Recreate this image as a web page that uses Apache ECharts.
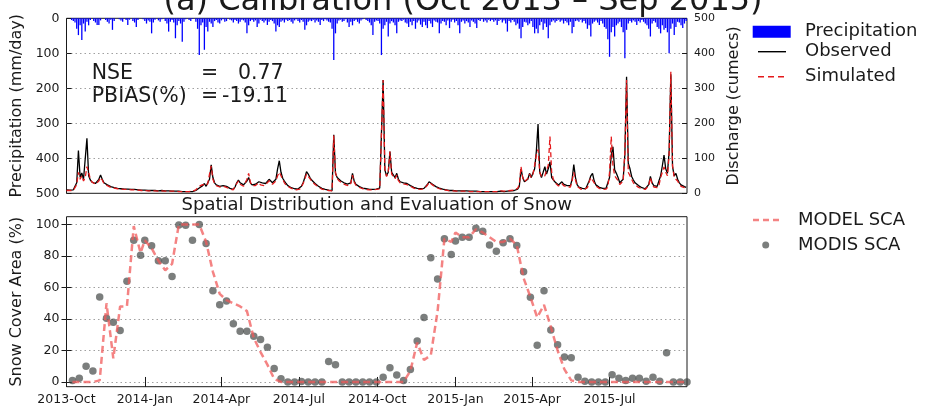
<!DOCTYPE html>
<html>
<head>
<meta charset="utf-8">
<title>Calibration hydrograph and snow cover</title>
<script src="https://cdn.jsdelivr.net/npm/echarts@6/dist/echarts.min.js"></script>
<style>
  html, body { margin: 0; padding: 0; background: #fff; }
  #chart { width: 926px; height: 409px; }
</style>
</head>
<body>
<div id="chart"></div>
<script>
// Period: 2013-10-01 .. 2015-09-30, x values are days since the start date.
const START = Date.UTC(2013, 9, 1);
const LAST_DAY = 729;
const DAY_MS = 86400000;
const STEP_DAYS = 2; // hydrological series are stored every second day

// Precipitation (mm/day)
const precipitation = [
  0,0,0,5,8,12,30,48,20,62,
  15,38,10,20,5,0,8,12,19,19,
  6,0,0,5,10,15,4,33,8,0,
  0,3,6,10,0,5,19,4,0,8,
  12,25,5,0,0,3,8,15,6,10,
  43,12,4,0,6,10,3,0,8,15,
  38,10,5,12,57,20,8,15,67,10,
  3,0,5,8,2,0,10,30,105,20,
  12,90,25,38,10,15,25,8,5,12,
  15,6,3,10,8,0,4,6,12,5,
  8,15,10,4,6,12,43,20,8,5,
  10,6,25,15,4,8,12,6,19,10,
  5,8,15,38,20,25,10,6,12,4,
  8,5,10,15,6,3,8,12,5,10,
  33,20,10,6,8,4,12,6,10,19,
  5,8,3,6,10,12,30,119,43,15,
  6,4,10,8,3,12,25,10,20,8,
  4,10,15,6,3,0,5,8,12,20,
  48,10,6,8,15,105,30,20,10,52,
  15,8,12,20,43,10,6,8,4,12,
  15,25,10,20,8,30,12,6,18,25,
  10,20,28,8,15,25,6,10,12,43,
  15,8,10,20,6,28,10,4,12,8,
  20,43,10,6,15,8,12,25,6,10,
  15,28,5,8,3,10,6,12,4,8,
  5,10,6,19,8,4,12,6,15,38,
  8,12,5,10,20,15,30,57,25,10,
  12,20,15,8,25,43,30,43,20,10,
  33,15,25,57,20,10,6,12,8,4,
  10,6,15,8,12,20,10,43,25,8,
  6,10,4,12,8,15,30,20,52,15,
  10,6,12,19,8,15,25,30,60,110,
  40,25,52,20,15,10,25,40,114,33,
  15,8,12,6,10,19,8,12,5,10,
  15,20,30,52,15,8,12,25,30,43,
  20,33,28,40,100,30,15,48,25,10,
  12,20,28,15,8
];

// Observed discharge (cumecs)
const observed = [
  10,10,9,9,10,12,30,122,45,58,
  40,35,157,50,38,32,30,28,30,40,
  52,40,30,26,24,22,19,18,16,15,
  14,14,13,13,12,12,12,11,11,11,
  11,10,10,10,9,9,9,9,8,8,
  8,8,8,7,7,7,8,7,7,7,
  7,6,6,6,6,6,6,5,5,5,
  5,5,5,5,5,6,8,10,15,18,
  22,28,20,25,40,81,45,30,24,22,
  20,18,22,20,20,16,14,12,11,18,
  30,38,30,26,24,24,35,45,30,24,
  24,26,30,33,28,30,26,28,34,40,
  35,30,28,40,70,93,60,43,35,28,
  22,19,16,14,13,12,12,14,20,30,
  45,62,55,45,38,33,28,24,20,17,
  14,12,11,10,9,8,8,167,57,45,
  40,36,33,30,28,26,24,30,57,35,
  26,22,19,17,15,14,13,12,11,11,
  11,12,12,14,15,20,324,67,50,60,
  119,60,57,45,57,40,33,30,30,28,
  28,26,22,20,17,15,14,14,13,13,
  14,18,25,33,30,26,22,19,17,15,
  13,12,11,10,9,8,8,8,8,7,
  7,7,7,7,6,7,7,6,6,6,
  6,6,5,5,5,5,5,5,5,5,
  5,5,5,5,5,6,5,5,6,6,
  7,7,8,8,9,12,20,70,45,33,
  30,40,57,45,50,70,120,198,60,45,
  60,76,55,70,90,45,38,32,28,24,
  28,33,26,24,22,20,22,40,82,45,
  24,18,14,14,13,13,18,35,50,57,
  35,24,20,17,15,14,14,15,20,45,
  110,133,67,57,45,30,26,40,110,333,
  86,70,48,38,30,26,22,19,16,14,
  13,14,25,48,30,22,20,20,25,50,
  78,109,70,57,120,340,76,50,57,40,
  30,24,20,19,17
];

// Simulated discharge (cumecs)
const simulated = [
  8,8,8,8,8,10,25,60,40,50,
  35,45,76,60,40,32,28,26,28,35,
  45,38,28,24,22,20,17,16,15,14,
  13,13,12,12,11,11,11,10,10,10,
  10,9,9,9,8,8,8,8,7,7,
  7,7,7,7,6,6,7,6,6,6,
  6,6,6,6,6,5,5,5,5,5,
  5,5,5,5,6,7,10,14,20,22,
  25,30,22,28,55,78,40,28,22,20,
  18,17,20,18,17,14,12,10,10,20,
  28,35,26,22,20,22,40,57,32,22,
  22,22,26,30,24,26,22,25,30,36,
  32,26,24,35,50,60,55,40,30,24,
  20,17,14,12,11,10,10,12,18,28,
  40,55,52,42,35,30,25,21,18,15,
  12,11,10,9,8,7,7,165,60,42,
  36,32,29,26,24,22,21,28,52,32,
  23,20,17,15,13,12,11,10,10,10,
  10,11,11,12,13,18,324,70,48,60,
  119,55,50,42,52,36,30,27,27,25,
  25,23,20,18,15,13,12,12,11,11,
  13,16,23,32,28,24,20,17,15,13,
  11,10,9,9,8,7,7,7,7,6,
  6,6,6,6,5,6,6,5,5,5,
  5,5,5,5,5,5,5,5,5,5,
  5,5,5,5,6,7,6,6,7,7,
  8,8,9,9,10,14,25,76,45,33,
  30,42,55,45,55,80,110,125,60,48,
  45,50,48,80,162,60,40,30,25,21,
  24,28,22,20,18,16,18,35,60,38,
  20,15,12,12,11,11,16,32,45,50,
  30,21,17,14,12,11,11,12,18,60,
  162,80,50,45,36,25,22,35,120,324,
  60,50,40,30,24,20,17,15,13,11,
  11,12,22,45,26,18,16,16,22,45,
  60,75,60,50,110,347,80,45,50,35,
  26,20,17,16,14
];

// Snow cover area (%) on the 8-day composite dates
const modisSCA = [
  1,2.3,10,7,54,40.5,38,32.7,64,90,80.5,
  90,86.5,77,77,67,99.7,99.5,90,100,88,
  58,49,51.4,37,32.3,32.3,29,27,22,8.6,
  2,0,0,0.3,0,0,0,13,11,0,
  0,0,0,0,0,3,9,4.4,1,8,
  26,41,79,65.5,91,81,
  89.6,92,92,97.6,95.7,87,83,88.4,91,86.7,
  70,53.8,23.4,58,33,23.6,15.8,15.4,3,0.5,
  0,0,0,4.6,2.3,1,2.3,2.3,0.5,3,
  0.5,18.5,0,0,0
];
const modelSCA = [
  0,0,0,0,1,50,15,48,48,99,82,
  90,85,77,71,75,100,100,100,100,89,
  70,56,52,50,48,45,28,19,11,2,
  0,0,0,0,0,0,0,0,0,0,
  0,0,0,0,0,0,0,0,0,7,
  25,14,17,45,91,89,
  95,92,92,97,95,92,89,89,91,87,
  66,54,41,49,35,20,8,1,0,0,
  0,0,0,0,0,0,0,0,0,0,
  0,0,0,0,0
];

// Quarterly date ticks
const tickDays = [0, 92, 182, 273, 365, 457, 547, 638];
const tickLabels = ['2013-Oct', '2014-Jan', '2014-Apr', '2014-Jul', '2014-Oct', '2015-Jan', '2015-Apr', '2015-Jul'];
const scaTicks = [0, 20, 40, 60, 80, 100];

// Start days of the 8-day composites (day-of-year 1, 9, 17, ... each year)
function compositeDays() {
  const out = [];
  for (let y = 2013; y <= 2015; y++) {
    for (let doy = 1; doy <= 366; doy += 8) {
      const d = Math.round((Date.UTC(y, 0, doy) - START) / DAY_MS);
      if (d >= 0 && d <= LAST_DAY) out.push(d);
    }
  }
  return out;
}

const FONT = 'DejaVu Sans';
const INK = '#1a1a1a';
const RED = '#e41a1c';
const PINK = 'rgba(240,90,90,0.75)';
const gridDots = { color: '#a0a0a0', width: 1, type: [1.5, 3] };
const scaDays = compositeDays();
const pairs = (arr) => arr.map((v, i) => [i * STEP_DAYS, v]);
const scaPairs = (arr) => arr.map((v, i) => [scaDays[i], v]);

// legend glyph: a three-dash stroke
const DASH_ICON = 'path://M0,0h6v1h-6z M10,0h6v1h-6z M20,0h6v1h-6z';

const chart = echarts.init(document.getElementById('chart'), null, { renderer: 'canvas' });

const legendText = (pad) => ({ fontSize: 18, color: INK, fontFamily: FONT, padding: [0, 0, 0, pad] });

function label(text, x, y, size, align) {
  return {
    type: 'text', x: x, y: y, silent: true,
    style: { text: text, font: size + 'px "DejaVu Sans"', fill: INK, textAlign: align || 'left', textVerticalAlign: 'middle' }
  };
}

chart.setOption({
  animation: false,
  backgroundColor: '#fff',
  textStyle: { fontFamily: FONT },
  grid: [
    { left: 66.5, top: 18.3, width: 620.5, height: 175, show: true, borderColor: INK, borderWidth: 1, backgroundColor: 'transparent' },
    { left: 66.5, top: 216.7, width: 620.5, height: 170, show: true, borderColor: INK, borderWidth: 1, backgroundColor: 'transparent' }
  ],
  xAxis: [
    {
      gridIndex: 0, type: 'value', min: 0, max: LAST_DAY,
      axisLine: { show: false }, axisTick: { show: false },
      axisLabel: { show: false }, splitLine: { show: false }
    },
    {
      gridIndex: 1, type: 'value', min: 0, max: LAST_DAY, position: 'bottom',
      axisLine: { show: false },
      axisTick: { inside: true, length: 5, customValues: tickDays, lineStyle: { color: INK } },
      axisLabel: {
        customValues: tickDays, margin: 7, fontSize: 12.5, color: INK, fontFamily: FONT,
        formatter: (v) => tickLabels[tickDays.indexOf(v)]
      },
      splitLine: { show: false }
    },
    {
      gridIndex: 1, type: 'value', min: 0, max: LAST_DAY, position: 'top',
      axisLine: { show: false },
      axisTick: { inside: true, length: 5, customValues: tickDays, lineStyle: { color: INK } },
      axisLabel: { show: false }, splitLine: { show: false }
    }
  ],
  yAxis: [
    {
      gridIndex: 0, type: 'value', inverse: true, min: 0, max: 500, interval: 100,
      name: 'Precipitation (mm/day)', nameLocation: 'middle', nameGap: 34,
      nameTextStyle: { fontSize: 16, color: INK, fontFamily: FONT },
      axisLine: { show: false },
      axisTick: { inside: true, length: 5, lineStyle: { color: INK } },
      axisLabel: { fontSize: 12.5, color: INK, margin: 7, fontFamily: FONT },
      splitLine: { show: true, showMinLine: false, showMaxLine: false, lineStyle: gridDots }
    },
    {
      gridIndex: 0, type: 'value', position: 'right', min: 0, max: 500, interval: 100,
      name: 'Discharge (cumecs)', nameLocation: 'middle', nameGap: 37,
      nameTextStyle: { fontSize: 16, color: INK, fontFamily: FONT },
      axisLine: { show: false },
      axisTick: { inside: true, length: 5, lineStyle: { color: INK } },
      axisLabel: { fontSize: 11, color: INK, margin: 7, fontFamily: FONT },
      splitLine: { show: false }
    },
    {
      gridIndex: 1, type: 'value', min: -3, max: 105,
      name: 'Snow Cover Area (%)', nameLocation: 'middle', nameGap: 35,
      nameTextStyle: { fontSize: 16, color: INK, fontFamily: FONT },
      axisLine: { show: false },
      axisTick: { inside: true, length: 5, customValues: scaTicks, lineStyle: { color: INK } },
      axisLabel: { customValues: scaTicks, fontSize: 12.5, color: INK, margin: 7, fontFamily: FONT },
      splitLine: { show: true, lineStyle: gridDots }
    },
    {
      gridIndex: 1, type: 'value', position: 'right', min: -3, max: 105,
      axisLine: { show: false },
      axisTick: { inside: true, length: 5, customValues: scaTicks, lineStyle: { color: INK } },
      axisLabel: { show: false }, splitLine: { show: false }
    }
  ],
  legend: [
    {
      data: [{ name: 'Precipitation', icon: 'rect' }], left: 752.7, top: 22.7, padding: 0,
      itemWidth: 38, itemHeight: 12, textStyle: legendText(9.3)
    },
    {
      data: [{ name: 'Observed', icon: 'rect' }], left: 758, top: 42.7, padding: 0,
      itemWidth: 28, itemHeight: 1.4, symbolKeepAspect: false, textStyle: legendText(14)
    },
    {
      data: [{ name: 'Simulated', icon: DASH_ICON }], left: 758, top: 67.7, padding: 0,
      itemWidth: 26, itemHeight: 1.4, symbolKeepAspect: false, textStyle: legendText(16)
    },
    {
      data: [{ name: 'MODEL SCA', icon: DASH_ICON }], left: 753, top: 211, padding: 0,
      itemWidth: 26, itemHeight: 2.5, symbolKeepAspect: false, textStyle: legendText(14)
    },
    {
      data: [{ name: 'MODIS SCA', icon: 'circle' }], left: 762.2, top: 236, padding: 0,
      itemWidth: 7, itemHeight: 7, textStyle: legendText(23.8)
    }
  ],
  graphic: [
    label('(a) Calibration (Oct 2013 \u2013 Sep 2015)', 463, 1.7, 32, 'center'),
    label('Spatial Distribution and Evaluation of Snow', 376.7, 205, 18, 'center'),
    label('NSE', 91.7, 73.5, 20.5),
    label('=', 201, 73.5, 20.5),
    label('0.77', 238, 73.5, 20.5),
    label('PBIAS(%)', 91.7, 96.8, 20.5),
    label('=', 201, 96.8, 20.5),
    label('-19.11', 222, 96.8, 20.5)
  ],
  series: [
    {
      name: 'Precipitation', type: 'bar', xAxisIndex: 0, yAxisIndex: 0,
      data: pairs(precipitation), barWidth: 1.3, itemStyle: { color: '#0000ff' }, z: 2
    },
    {
      name: 'Observed', type: 'line', xAxisIndex: 0, yAxisIndex: 1,
      data: pairs(observed), symbol: 'none', lineStyle: { color: '#000000', width: 1.3 }, itemStyle: { color: '#000000' }, z: 3
    },
    {
      name: 'Simulated', type: 'line', xAxisIndex: 0, yAxisIndex: 1,
      data: pairs(simulated), symbol: 'none', lineStyle: { color: RED, width: 1.3, type: [5, 3] }, itemStyle: { color: RED }, z: 4
    },
    {
      name: 'MODIS SCA', type: 'scatter', xAxisIndex: 1, yAxisIndex: 2,
      data: scaPairs(modisSCA), symbolSize: 7.5,
      itemStyle: { color: 'rgba(62,66,64,0.85)' }, z: 2
    },
    {
      name: 'MODEL SCA', type: 'line', xAxisIndex: 1, yAxisIndex: 2,
      data: scaPairs(modelSCA), symbol: 'none',
      lineStyle: { color: PINK, width: 2.5, type: [7, 4] }, itemStyle: { color: PINK }, z: 3
    }
  ]
});
</script>
</body>
</html>
